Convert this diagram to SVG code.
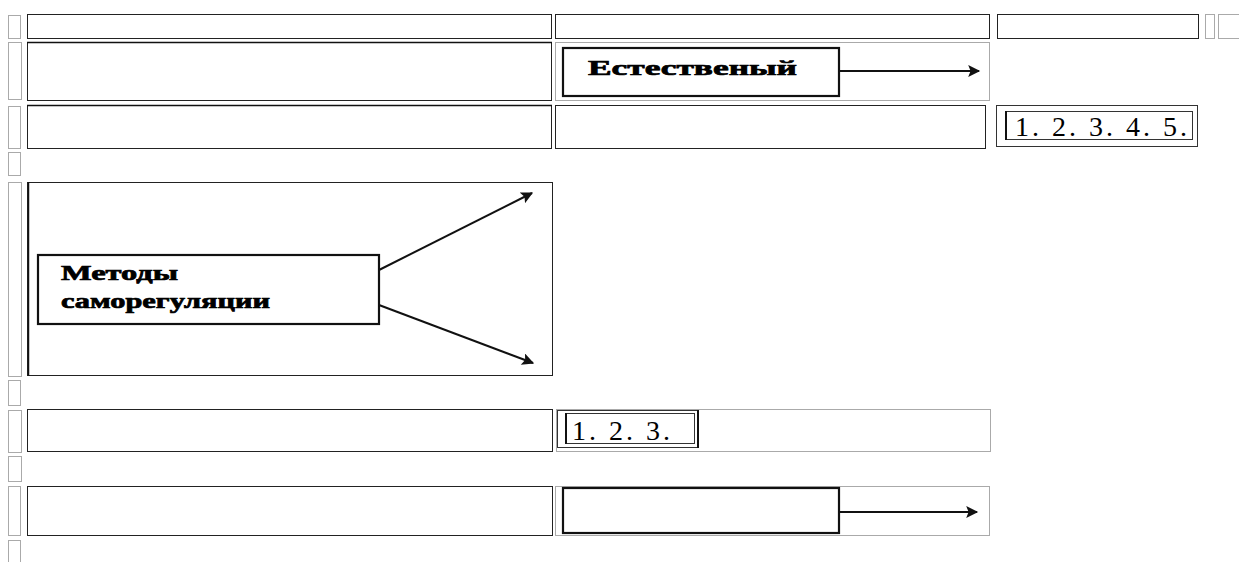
<svg xmlns="http://www.w3.org/2000/svg" width="1239" height="562" viewBox="0 0 1239 562">
<style>
.cell{fill:none;stroke:#222;stroke-width:1}
.dot{fill:none;stroke:#555;stroke-width:1;stroke-dasharray:1 1}
.box{fill:#fff;stroke:#111;stroke-width:2.2}
.thin{fill:none;stroke:#333;stroke-width:1}
.lbl{font-family:"Liberation Serif",serif;font-weight:bold;fill:#000;stroke:#000;stroke-width:0.7}
.num{font-family:"Liberation Serif",serif;fill:#000;font-size:28px}
.conn{stroke:#111;stroke-width:2;fill:none;marker-end:url(#ah)}
</style>
<defs>
<marker id="ah" viewBox="0 0 10 10" refX="9" refY="5" markerWidth="6.5" markerHeight="6" orient="auto" markerUnits="strokeWidth">
<path d="M0,0 L10,5 L0,10 L2,5 z" fill="#111"/>
</marker>
</defs>
<rect width="1239" height="562" fill="#fff"/>
<g id="frames">
<rect class="dot" x="8.5" y="15.5" width="12" height="23"/>
<rect class="cell" x="27.5" y="14.5" width="524" height="24"/>
<rect class="cell" x="555.5" y="14.5" width="434" height="24"/>
<rect class="cell" x="997.5" y="14.5" width="201" height="24"/>
<rect class="dot" x="1205.5" y="14.5" width="9" height="24"/>
<rect class="dot" x="1218.5" y="14.5" width="22" height="24"/>
<rect class="dot" x="8.5" y="42.5" width="13" height="57"/>
<rect class="cell" x="27.5" y="42.5" width="524" height="58"/>
<line x1="27" y1="42.5" x2="552" y2="42.5" stroke="#111" stroke-width="1.5"/>
<rect class="dot" x="555.5" y="42.5" width="434" height="58"/>
<rect class="dot" x="8.5" y="106.5" width="12" height="42"/>
<rect class="cell" x="27.5" y="105.5" width="524" height="43"/>
<line x1="27" y1="105.5" x2="552" y2="105.5" stroke="#111" stroke-width="1.5"/>
<rect class="cell" x="555.5" y="105.5" width="430" height="43"/>
<rect class="dot" x="8.5" y="152.5" width="12" height="23"/>
<rect class="dot" x="8.5" y="182.5" width="13" height="194"/>
<rect class="cell" x="27.5" y="182.5" width="525" height="193"/>
<line x1="28.5" y1="182" x2="28.5" y2="376" stroke="#111" stroke-width="1.5"/>
<rect class="dot" x="8.5" y="380.5" width="12" height="25"/>
<rect class="dot" x="8.5" y="410.5" width="13" height="42"/>
<rect class="cell" x="27.5" y="409.5" width="525" height="42"/>
<rect class="dot" x="556.5" y="409.5" width="434" height="42"/>
<rect class="dot" x="8.5" y="456.5" width="13" height="25"/>
<rect class="dot" x="8.5" y="486.5" width="12" height="49"/>
<rect class="cell" x="27.5" y="486.5" width="525" height="49"/>
<rect class="dot" x="555.5" y="486.5" width="434" height="49"/>
<rect class="dot" x="8.5" y="540.5" width="12" height="24"/>
</g>
<g id="node-natural">
<rect class="box" x="563" y="48" width="276" height="48"/>
<text class="lbl" x="588" y="75" font-size="21" textLength="209" lengthAdjust="spacingAndGlyphs">Естественый</text>
</g>
<g id="node-list5">
<rect class="thin" x="996.5" y="105.5" width="201" height="41"/>
<rect class="thin" x="1005.5" y="111.5" width="187" height="28"/>
<line x1="1006" y1="111" x2="1006" y2="140" stroke="#111" stroke-width="2"/>
<text class="num" x="1015" y="136" textLength="172" lengthAdjust="spacing">1. 2. 3. 4. 5.</text>
</g>
<g id="node-methods">
<rect class="box" x="38" y="255" width="341" height="69"/>
<text class="lbl" x="61" y="280" font-size="20" textLength="117" lengthAdjust="spacingAndGlyphs">Методы</text>
<text class="lbl" x="61" y="308" font-size="20" textLength="209" lengthAdjust="spacingAndGlyphs">саморегуляции</text>
</g>
<g id="node-list3">
<rect class="thin" x="557.5" y="410.5" width="141" height="37"/>
<rect class="thin" x="565.5" y="413.5" width="129" height="30"/>
<line x1="566" y1="413" x2="566" y2="444" stroke="#111" stroke-width="2"/>
<line x1="698" y1="410" x2="698" y2="448" stroke="#111" stroke-width="2"/>
<text class="num" x="572" y="440" textLength="98" lengthAdjust="spacing">1. 2. 3.</text>
</g>
<g id="node-empty">
<rect class="box" x="563" y="488" width="276" height="45"/>
</g>
<g id="connectors">
<line class="conn" x1="839" y1="71" x2="979" y2="71"/>
<line class="conn" x1="379" y1="270" x2="532" y2="193"/>
<line class="conn" x1="379" y1="305" x2="533" y2="363"/>
<line class="conn" x1="839" y1="512" x2="977" y2="512"/>
</g>
</svg>
